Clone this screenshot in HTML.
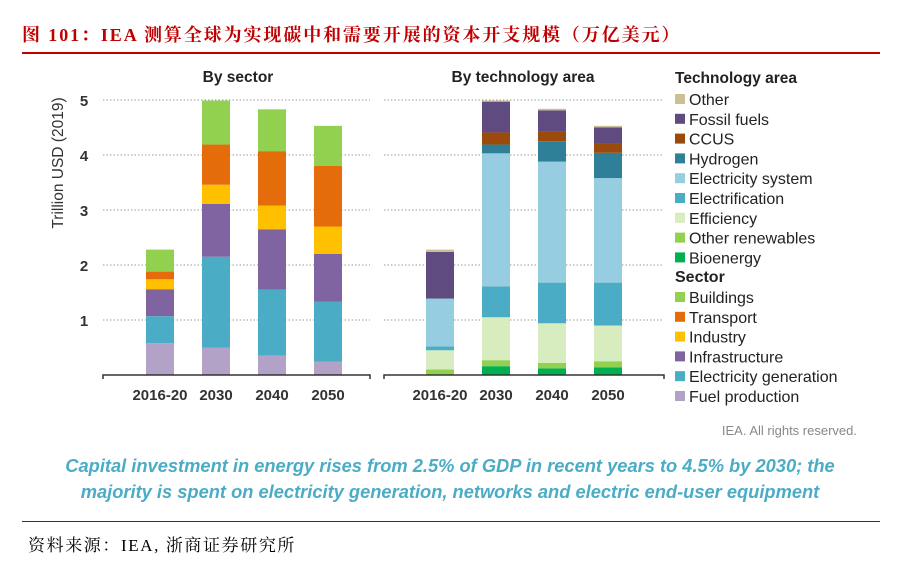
<!DOCTYPE html>
<html><head><meta charset="utf-8">
<style>
body{margin:0;width:924px;height:566px;background:#fff;overflow:hidden;position:relative;font-family:"Liberation Sans","Noto Sans CJK SC",sans-serif}
.t{position:absolute;white-space:nowrap}
</style></head><body>
<div class="t" style="left:22px;top:21px;font:bold 18px 'Liberation Serif','Noto Serif CJK SC',serif;color:#c00000;letter-spacing:1.9px">图 101：IEA 测算全球为实现碳中和需要开展的资本开支规模（万亿美元）</div>
<div style="position:absolute;left:22px;top:52px;width:858px;height:1.5px;background:#c00000"></div>
<svg id="chart" width="924" height="566" style="position:absolute;left:0;top:0"></svg>
<div class="t" style="left:0;width:900px;top:453px;text-align:center;font:italic bold 18.3px 'Liberation Sans',sans-serif;color:#4bacc6;line-height:26px">Capital investment in energy rises from 2.5% of GDP in recent years to 4.5% by 2030; the<br>majority is spent on electricity generation, networks and electric end-user equipment</div>
<div style="position:absolute;left:22px;top:521px;width:858px;height:1px;background:#333"></div>
<div class="t" style="left:28px;top:531px;font:17px 'Liberation Serif','Noto Serif CJK SC',serif;color:#000;letter-spacing:1.6px">资料来源：IEA, 浙商证券研究所</div>
<script>
const years=["2016-20","2030","2040","2050"];
const yTicks=[1,2,3,4,5];
const sectorNames=["Fuel production","Electricity generation","Infrastructure","Industry","Transport","Buildings"];
const fuelProd=[0.58,0.50,0.35,0.24];
const elecGen=[0.49,1.65,1.20,1.09];
const infra=[0.49,0.96,1.10,0.87];
const industry=[0.18,0.35,0.43,0.50];
const transport=[0.14,0.73,0.99,1.10];
const buildings=[0.40,0.80,0.76,0.73];
const techNames=["Bioenergy","Other renewables","Efficiency","Electrification","Electricity system","Hydrogen","CCUS","Fossil fuels","Other"];
const bioenergy=[0.01,0.16,0.12,0.14];
const otherRen=[0.09,0.11,0.10,0.11];
const efficiency=[0.35,0.78,0.72,0.65];
const electrification=[0.07,0.56,0.74,0.78];
const elecSystem=[0.87,2.42,2.20,1.90];
const hydrogen=[0,0.16,0.37,0.46];
const ccus=[0,0.22,0.17,0.17];
const fossil=[0.85,0.56,0.39,0.29];
const other=[0.04,0.02,0.03,0.03];

const sectorSeries=[fuelProd,elecGen,infra,industry,transport,buildings];
const sectorColors=["#b3a2c7","#4bacc6","#8064a2","#ffc000","#e46c0a","#92d050"];
const techSeries=[bioenergy,otherRen,efficiency,electrification,elecSystem,hydrogen,ccus,fossil,other];
const techColors=["#00b050","#92d050","#d7ecbf","#4bacc6","#97cde0","#2e8099","#9a4a0a","#5f4b7f","#cdbf93"];

const svg=document.getElementById('chart');
const NS="http://www.w3.org/2000/svg";
function mk(tag,attrs,parent){const e=document.createElementNS(NS,tag);for(const k in attrs)e.setAttribute(k,attrs[k]);(parent||svg).appendChild(e);return e;}
const y0=375,pxU=55;
function yS(v){return y0-v*pxU;}
function txt(x,y,s,opts){const e=mk('text',Object.assign({x:x,y:y,'font-family':'Liberation Sans, sans-serif','font-size':14,fill:'#222'},opts||{}));e.textContent=s;return e;}

function panel(name,axisX0,axisX1,firstX,series,colors,title,titleX){
  const g=mk('g',{});
  
  
  yTicks.forEach(t=>{
    const l=mk('line',{x1:axisX0,x2:axisX1,y1:yS(t),y2:yS(t),stroke:'#999','stroke-width':1,'stroke-dasharray':'1.5 2'},g);
    
    
  });
  years.forEach((yr,i)=>{
    let cum=0;const x=firstX+i*56;
    series.forEach((s,j)=>{
      const v=s[i];if(v<=0)return;
      const r=mk('rect',{x:x,y:yS(cum+v),width:28,height:v*pxU,fill:colors[j]},g);
      
      
      cum+=v;
    });
    const lb=txt(x+14,400,yr,{'text-anchor':'middle','font-size':15,'font-weight':'bold',fill:'#333'});
    
    
  });
  mk('path',{d:`M${axisX0} ${y0+4}V${y0}H${axisX1}V${y0+4}`,stroke:'#333','stroke-width':1.5,fill:'none'},g);
  const tt=txt(titleX,82,title,{'text-anchor':'middle','font-weight':'bold','font-size':15.5,fill:'#222'});
  
  
}
panel('sector-panel',103,370,146,sectorSeries,sectorColors,'By sector',238);
panel('technology-panel',384,664,426,techSeries,techColors,'By technology area',523);
yTicks.forEach(t=>{
  const e=txt(84,yS(t)+6,String(t),{'text-anchor':'middle','font-size':15,'font-weight':'bold',fill:'#333'});
  
  
});
const yt=txt(0,0,'Trillion USD (2019)',{'text-anchor':'middle','font-size':15.5,fill:'#333',transform:'translate(63,163) rotate(-90)'});



// legend
const lh=txt(675,83,'Technology area',{'font-weight':'bold','font-size':15.5});


const techOrder=[8,7,6,5,4,3,2,1,0];
let ly=100;
techOrder.forEach(j=>{
  const r=mk('rect',{x:675,y:ly-6,width:10,height:10,fill:techColors[j]});
  
  
  const t=txt(689,ly+5,techNames[j],{'font-size':16});
  
  
  ly+=19.8;
});
const sh=txt(675,ly+4,'Sector',{'font-weight':'bold','font-size':16});


ly+=19.8;
[5,4,3,2,1,0].forEach(j=>{
  const r=mk('rect',{x:675,y:ly-6,width:10,height:10,fill:sectorColors[j]});
  
  
  const t=txt(689,ly+5,sectorNames[j],{'font-size':16});
  
  
  ly+=19.8;
});
const cr=txt(857,435,'IEA. All rights reserved.',{'text-anchor':'end','font-size':13,fill:'#888'});


</script>
</body></html>
